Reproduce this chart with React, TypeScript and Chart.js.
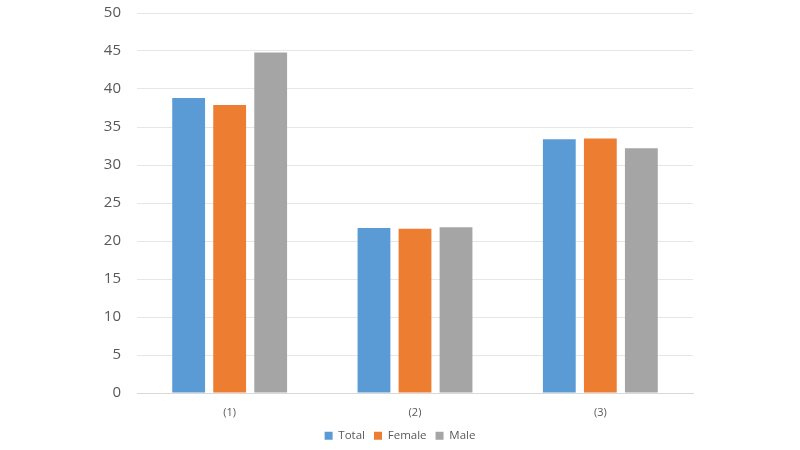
import React, { useEffect, useRef } from "react";
import { Chart, registerables } from "chart.js";

Chart.register(...registerables);

const categories = ["(1)", "(2)", "(3)"];
const totalValues = [38.8, 21.7, 33.4];
const femaleValues = [37.9, 21.6, 33.5];
const maleValues = [44.8, 21.8, 32.2];
const seriesNames = ["Total", "Female", "Male"];
const seriesColors = ["#5B9BD5", "#ED7D31", "#A5A5A5"];

export default function App() {
  const ref = useRef<HTMLCanvasElement | null>(null);

  useEffect(() => {
    document.body.style.margin = "0";
    if (!ref.current) return;
    const values = [totalValues, femaleValues, maleValues];
    const chart = new Chart(ref.current, {
      type: "bar",
      data: {
        labels: categories,
        datasets: seriesNames.map((name, i) => ({
          label: name,
          data: values[i],
          backgroundColor: seriesColors[i],
          borderWidth: 0,
          categoryPercentage: 0.664,
          barPercentage: 0.8,
        })),
      },
      options: {
        responsive: false,
        animation: false,
        maintainAspectRatio: false,
        layout: { padding: { left: 0, right: 0, top: 13, bottom: 0 } },
        plugins: {
          legend: {
            position: "bottom",
            labels: {
              boxWidth: 8,
              boxHeight: 8,
              padding: 9,
              color: "#595959",
              font: { family: "Open Sans", size: 11.5 },
            },
          },
          tooltip: { enabled: false },
        },
        scales: {
          x: {
            grid: { display: false },
            border: { display: true, color: "#D9D9D9" },
            afterFit: (s: any) => {
              s.height = 28;
            },
            ticks: {
              color: "#595959",
              font: { family: "Open Sans", size: 11 },
              padding: 5,
            },
          },
          y: {
            min: 0,
            max: 50,
            afterFit: (s: any) => {
              s.width = 137;
              s.paddingTop = 0;
              s.paddingBottom = 0;
            },
            ticks: {
              stepSize: 5,
              color: "#595959",
              font: { family: "Open Sans", size: 15 },
              padding: 16,
            },
            grid: { color: "#E6E6E6", drawTicks: false },
            border: { display: false },
          },
          yRight: {
            position: "right",
            min: 0,
            max: 50,
            afterFit: (s: any) => {
              s.width = 107;
              s.paddingTop = 0;
              s.paddingBottom = 0;
            },
            ticks: { display: false },
            grid: { display: false, drawTicks: false },
            border: { display: false },
          },
        },
      },
    });
    const lg: any = chart.legend;
    if (lg) {
      const origFit = lg.fit.bind(lg);
      lg.fit = function () {
        origFit();
        this.height = 29;
      };
      chart.update();
    }
    return () => chart.destroy();
  }, []);

  return (
    <div style={{ position: "absolute", left: 0, top: 0, width: 800, height: 450 }}>
      <canvas ref={ref} width={800} height={450} style={{ width: 800, height: 450 }} />
    </div>
  );
}
